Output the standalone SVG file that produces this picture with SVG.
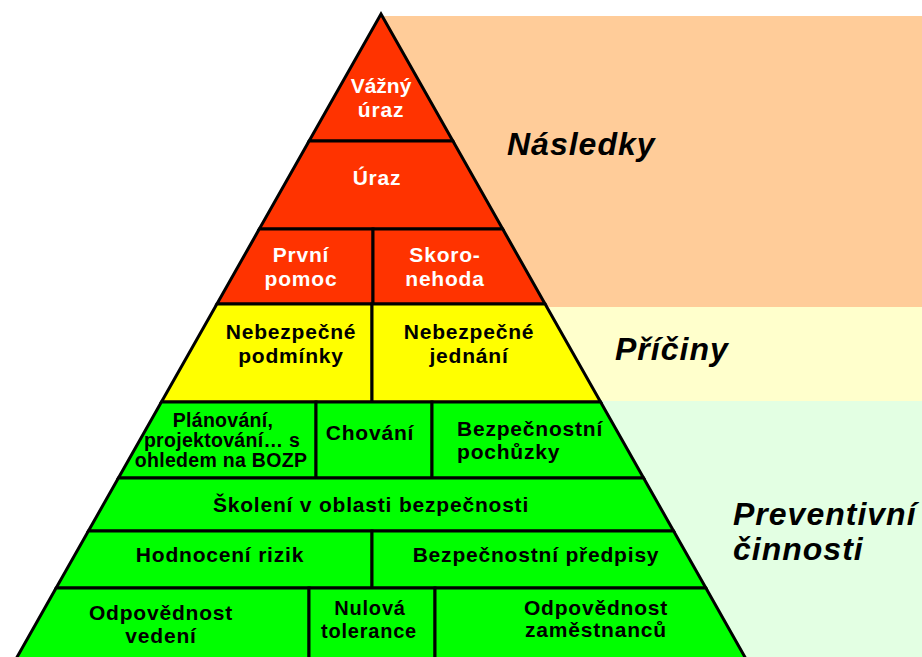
<svg xmlns="http://www.w3.org/2000/svg" width="922" height="657" viewBox="0 0 922 657">
<style>
.cell{stroke:#000;stroke-width:3;stroke-linejoin:miter}
.red{fill:#FF3300}
.yel{fill:#FFFF00}
.grn{fill:#00FF00}
.t{font-family:"Liberation Sans",Arial,sans-serif;font-weight:bold;font-size:21px;text-anchor:middle;letter-spacing:0.8px}
.w{fill:#FFFFFF}
.b{fill:#000000}
.lbl{font-family:"Liberation Sans",Arial,sans-serif;font-weight:bold;font-style:italic;font-size:32px;fill:#000;letter-spacing:1px}
</style>
<rect width="922" height="657" fill="#FFFFFF"/>
<g id="bands">
<rect x="382" y="16" width="540" height="291" fill="#FFCC99"/>
<rect x="382" y="307" width="540" height="94" fill="#FFFFCC"/>
<rect x="382" y="401" width="540" height="256" fill="#E3FFE3"/>
</g>
<g id="n-vazny-uraz">
<polygon class="cell red" points="381,14 452.9,141 309.1,141"/>
<text class="t w" x="381" y="93" style="letter-spacing:0px">Vážný</text>
<text class="t w" x="381" y="117">úraz</text>
</g>
<g id="n-uraz">
<polygon class="cell red" points="309.1,141 452.9,141 502.7,229 259.3,229"/>
<text class="t w" x="377" y="185">Úraz</text>
</g>
<g id="n-prvni-pomoc">
<polygon class="cell red" points="259.3,229 373,229 373,304 216.9,304"/>
<text class="t w" x="301" y="262">První</text>
<text class="t w" x="301" y="286">pomoc</text>
</g>
<g id="n-skoronehoda">
<polygon class="cell red" points="373,229 502.7,229 545.1,304 373,304"/>
<text class="t w" x="445" y="262">Skoro-</text>
<text class="t w" x="445" y="286">nehoda</text>
</g>
<g id="n-nebezpecne-podminky">
<polygon class="cell yel" points="216.9,304 372,304 372,402 161.4,402"/>
<text class="t b" x="291" y="339">Nebezpečné</text>
<text class="t b" x="291" y="363">podmínky</text>
</g>
<g id="n-nebezpecne-jednani">
<polygon class="cell yel" points="372,304 545.1,304 600.6,402 372,402"/>
<text class="t b" x="469" y="339">Nebezpečné</text>
<text class="t b" x="469" y="363">jednání</text>
</g>
<g id="n-planovani">
<polygon class="cell grn" points="161.4,402 316,402 316,478 118.4,478"/>
<text class="t b" x="223" y="427" style="font-size:19.5px;letter-spacing:0.3px">Plánování,</text>
<text class="t b" x="222" y="447" style="font-size:19.5px;letter-spacing:0.3px">projektování… s</text>
<text class="t b" x="221" y="467" style="font-size:19.5px;letter-spacing:0.3px">ohledem na BOZP</text>
</g>
<g id="n-chovani">
<polygon class="cell grn" points="316,402 432,402 432,478 316,478"/>
<text class="t b" x="370" y="440">Chování</text>
</g>
<g id="n-pochuzky">
<polygon class="cell grn" points="432,402 600.6,402 643.6,478 432,478"/>
<text class="t b" x="457" y="436" style="text-anchor:start">Bezpečnostní</text>
<text class="t b" x="457" y="459" style="text-anchor:start">pochůzky</text>
</g>
<g id="n-skoleni">
<polygon class="cell grn" points="118.4,478 643.6,478 673.6,531 88.4,531"/>
<text class="t b" x="371" y="512">Školení v oblasti bezpečnosti</text>
</g>
<g id="n-hodnoceni">
<polygon class="cell grn" points="88.4,531 372,531 372,588 56.1,588"/>
<text class="t b" x="220" y="562">Hodnocení rizik</text>
</g>
<g id="n-predpisy">
<polygon class="cell grn" points="372,531 673.6,531 705.9,588 372,588"/>
<text class="t b" x="536" y="562">Bezpečnostní předpisy</text>
</g>
<g id="n-odpovednost-vedeni">
<polygon class="cell grn" points="56.1,588 309,588 309,662 14.3,662"/>
<text class="t b" x="161" y="620">Odpovědnost</text>
<text class="t b" x="161" y="643">vedení</text>
</g>
<g id="n-nulova">
<polygon class="cell grn" points="309,588 435,588 435,662 309,662"/>
<text class="t b" x="370" y="615" style="font-size:20px">Nulová</text>
<text class="t b" x="369" y="638" style="font-size:20px">tolerance</text>
</g>
<g id="n-odpovednost-zamestnancu">
<polygon class="cell grn" points="435,588 705.9,588 747.7,662 435,662"/>
<text class="t b" x="596" y="615">Odpovědnost</text>
<text class="t b" x="596" y="637">zaměstnanců</text>
</g>
<g id="connectors"></g>
<g id="labels">
<text class="lbl" x="507" y="155">Následky</text>
<text class="lbl" x="615" y="360">Příčiny</text>
<text class="lbl" x="733" y="525">Preventivní</text>
<text class="lbl" x="733" y="560">činnosti</text>
</g>
</svg>
